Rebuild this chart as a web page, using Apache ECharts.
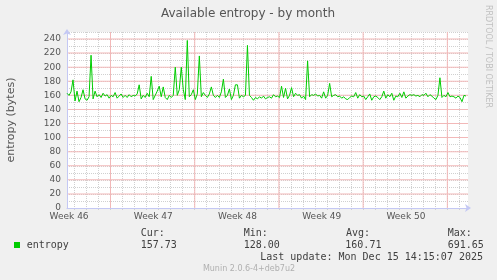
<!DOCTYPE html>
<html><head><meta charset="utf-8">
<script src="https://cdn.jsdelivr.net/npm/echarts@6/dist/echarts.min.js"></script>
<style>html,body{margin:0;padding:0;background:#f0f0f0}#c{width:497px;height:280px}</style>
</head><body><div id="c"></div><script>
// ---- data ----
const titleText = 'Available entropy - by month';
const yAxisName = 'entropy (bytes)';
const weekLabels = ['Week 46', 'Week 47', 'Week 48', 'Week 49', 'Week 50'];
const seriesName = 'entropy';
const statHeaders = ['Cur:', 'Min:', 'Avg:', 'Max:'];
const statValues = ['157.73', '128.00', '160.71', '691.65'];
const lastUpdate = 'Last update: Mon Dec 15 14:15:07 2025';
const footer = 'Munin 2.0.6-4+deb7u2';
const watermark = 'RRDTOOL / TOBI OETIKER';
const stepHours = 4; // one sample every 4 hours
const entropy = [
 163,160,165,182,152,166,151,157,168,155,153,158,217,155,166,158,161,157,163,159,
 161,156,160,158,164,156,159,162,157,160,157,161,158,160,159,162,175,155,160,157,
 163,158,187,154,160,166,173,158,172,157,154,160,157,160,200,160,168,200,168,154,
 238,158,161,168,154,162,216,158,164,160,157,162,172,160,157,160,157,165,183,157,
 160,169,154,160,175,175,156,160,158,160,231,160,157,153,157,155,158,156,159,155,
 157,158,156,161,158,159,157,173,157,170,155,160,171,158,163,160,161,156,159,154,
 209,158,161,160,162,159,160,156,165,156,160,177,158,160,161,158,159,156,158,155,
 154,157,159,158,164,156,161,158,159,154,158,162,153,158,159,157,154,158,166,156,
 161,158,163,153,159,158,163,157,165,156,159,161,160,161,159,160,158,161,160,163,
 158,161,159,156,154,160,185,157,160,158,164,158,159,158,156,159,157,151,160,159
];
// major grid: week starts (hours from the left edge) and labelled levels
const weekStartHours = [86.8, 254.8, 422.8, 590.8, 758.8];
const majorLevels = [20, 40, 60, 80, 100, 120, 140, 160, 180, 200, 220, 240];

// ---- layout ----
const PL = 67, PR = 468, PT = 32, PB = 208;
const spanHours = 800;
const pxh = (PR - PL) / spanHours;
const yMax = 250, yLabMax = 240;
const firstMidnight = 14.8;          // hours after left edge
const labelStart = 4.2;
const GRAY = '#d0d0d0', PINK = '#f2b8b8', AXIS = '#c4c8f4', TXT = '#555';
const GRAYS = new Array(64).fill(GRAY);
const F = '"DejaVu Sans", sans-serif', M = '"DejaVu Sans Mono", monospace';

const hidden = { axisLine: { show: false }, axisTick: { show: false }, axisLabel: { show: false }, splitLine: { show: false } };
const plotH = PB - PT;
const labTop = PB - yLabMax * plotH / yMax;
const axisLineStyle = { show: true, symbol: ['none', 'arrow'], symbolSize: [6, 6], symbolOffset: [0, 3], lineStyle: { color: AXIS, width: 1 } };
const halfPxH = 0.5 / pxh, halfPxV = 0.5 * yMax / plotH;

// major grid as thin filled bands, built from the arrays above
const majorAreas = [];
weekStartHours.forEach(h => majorAreas.push([{ xAxis: h - halfPxH, yAxis: 0 }, { xAxis: h + halfPxH, yAxis: yMax }]));
majorLevels.forEach(v => majorAreas.push([{ xAxis: 0, yAxis: v - halfPxV }, { xAxis: spanHours, yAxis: v + halfPxV }]));

const chart = echarts.init(document.getElementById('c'), null, { renderer: 'canvas' });
chart.setOption({
  animation: false,
  backgroundColor: '#f0f0f0',
  grid: [
    { left: PL, top: PT, width: PR - PL, height: plotH, show: true, backgroundColor: '#fff', borderWidth: 0 },
    { left: PL + firstMidnight * pxh, top: PT, width: 768 * pxh, height: plotH },
    { left: PL + labelStart * pxh, top: PT, width: 672 * pxh, height: plotH },
    { left: PL, top: labTop, width: PR - PL, height: PB - labTop },
    { left: PL, top: PT, width: PR - PL, height: plotH }
  ],
  xAxis: [
    { gridIndex: 0, type: 'value', min: 0, max: spanHours, zlevel: 2, z: 3,
      axisLine: axisLineStyle, axisTick: { show: false }, axisLabel: { show: false }, splitLine: { show: false } },
    { gridIndex: 1, type: 'value', min: 0, max: 768, interval: 24, zlevel: 0, z: 1,
      axisLine: { show: false }, axisLabel: { show: false },
      axisTick: { show: true, length: 2, lineStyle: { color: GRAY } },
      splitLine: { show: true, lineStyle: { color: GRAYS, width: 1, type: [1, 1] } } },
    { gridIndex: 2, type: 'value', min: 0, max: 672, interval: 168, zlevel: 2,
      axisLine: { show: false }, axisTick: { show: false }, splitLine: { show: false },
      axisLabel: { show: true, margin: 4, color: TXT, fontFamily: F, fontSize: 9,
        formatter: v => weekLabels[Math.round(v / 168)] || '' } },
    Object.assign({ gridIndex: 3, type: 'value', min: 0, max: spanHours }, hidden),
    Object.assign({ gridIndex: 4, type: 'value', min: 0, max: spanHours }, hidden)
  ],
  yAxis: [
    { gridIndex: 0, type: 'value', min: 0, max: yMax, zlevel: 2, z: 3,
      axisLine: axisLineStyle, axisTick: { show: false }, axisLabel: { show: false }, splitLine: { show: false } },
    Object.assign({ gridIndex: 1, type: 'value', min: 0, max: 1 }, hidden),
    Object.assign({ gridIndex: 2, type: 'value', min: 0, max: 1 }, hidden),
    { gridIndex: 3, type: 'value', min: 0, max: yLabMax, interval: 20, zlevel: 2,
      axisLine: { show: false }, axisTick: { show: false }, splitLine: { show: false },
      axisLabel: { show: true, margin: 6, color: TXT, fontFamily: F, fontSize: 9 } },
    { gridIndex: 4, type: 'value', min: 0, max: yMax, interval: 10, zlevel: 0, z: 1,
      axisLine: { show: false }, axisTick: { show: false }, axisLabel: { show: false },
      splitLine: { show: true, lineStyle: { color: GRAYS, width: 1, type: [1, 1] } } }
  ],
  series: [
    { name: 'major grid', type: 'line', xAxisIndex: 0, yAxisIndex: 0, zlevel: 1, z: 1,
      data: [], silent: true,
      markArea: { silent: true, label: { show: false },
        itemStyle: { color: PINK, borderWidth: 0, opacity: 1 },
        data: majorAreas } },
    { name: seriesName, type: 'line', xAxisIndex: 0, yAxisIndex: 0, zlevel: 2, z: 5,
      data: entropy.map((v, i) => [i * stepHours, v]),
      showSymbol: false, symbol: 'none',
      lineStyle: { color: '#00cc00', width: 1 } }
  ],
  graphic: [
    { type: 'text', x: 248, y: 13.5, style: { text: titleText, font: '12px ' + F, fill: '#555', textAlign: 'center', textVerticalAlign: 'middle' } },
    { type: 'text', x: 11, y: 120, rotation: Math.PI / 2, style: { text: yAxisName, font: '11px ' + F, fill: '#555', textAlign: 'center', textVerticalAlign: 'middle' } },
    { type: 'text', x: 488.5, y: 56.5, rotation: -Math.PI / 2, style: { text: watermark, font: '8px ' + F, fill: '#c0c0c0', textAlign: 'center', textVerticalAlign: 'middle' } },
    { type: 'rect', shape: { x: 14, y: 242, width: 6, height: 6 }, style: { fill: '#00cc00' } },
    { type: 'text', x: 26.7, y: 245.7, style: { text: seriesName, font: '10px ' + M, fill: '#404040', textAlign: 'left', textVerticalAlign: 'middle' } },
    ...statHeaders.map((h, k) => ({ type: 'text', x: [140.7, 243.7, 346, 447.7][k], y: 233.3, style: { text: h, font: '10px ' + M, fill: '#404040', textAlign: 'left', textVerticalAlign: 'middle' } })),
    ...statValues.map((h, k) => ({ type: 'text', x: [140.7, 243.7, 345.3, 447.7][k], y: 245.7, style: { text: h, font: '10px ' + M, fill: '#404040', textAlign: 'left', textVerticalAlign: 'middle' } })),
    { type: 'text', x: 483, y: 257.3, style: { text: lastUpdate, font: '10px ' + M, fill: '#404040', textAlign: 'right', textVerticalAlign: 'middle' } },
    { type: 'text', x: 249, y: 269.3, style: { text: footer, font: '8px ' + F, fill: '#b0b0b0', textAlign: 'center', textVerticalAlign: 'middle' } }
  ]
});
</script></body></html>
